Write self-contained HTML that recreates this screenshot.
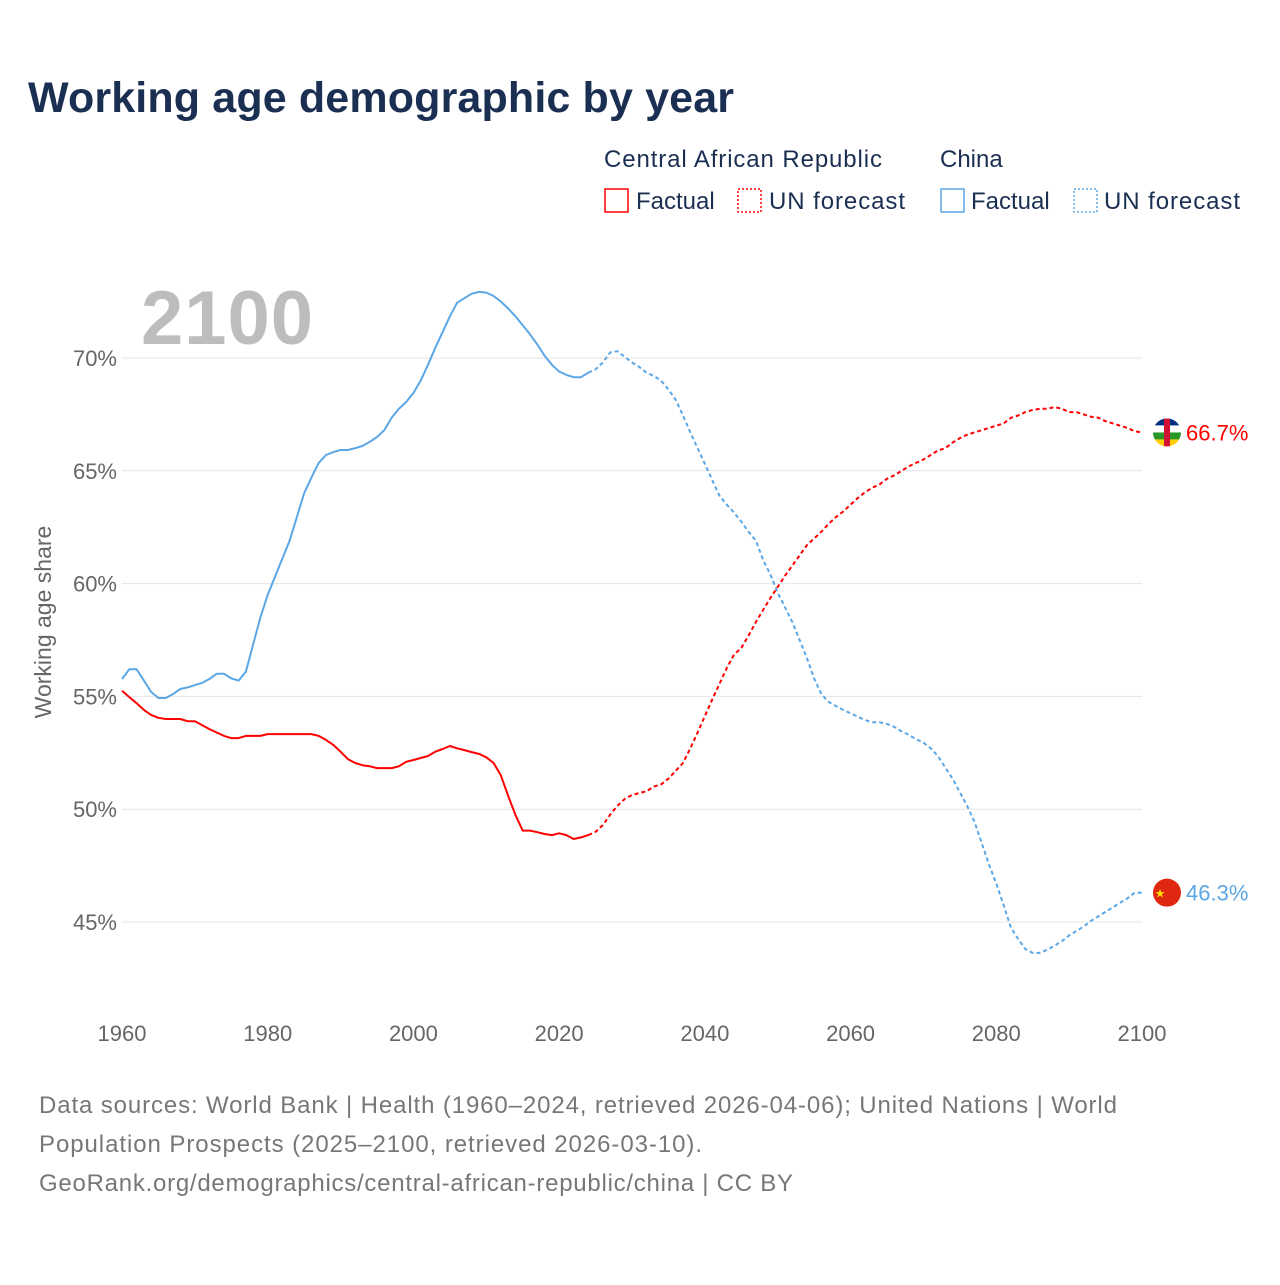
<!DOCTYPE html>
<html><head><meta charset="utf-8"><style>
body{margin:0;background:#fff;width:1280px;height:1280px;overflow:hidden;font-family:"Liberation Sans",sans-serif}
svg text{font-family:"Liberation Sans",sans-serif}
</style></head><body>
<svg id="chart" width="1280" height="1280" xmlns="http://www.w3.org/2000/svg">
<text x="28" y="112" font-size="43" font-weight="bold" fill="#1b2f52" textLength="706">Working age demographic by year</text>
<g font-size="24" fill="#1b2f52">
<text x="604" y="167" fill="#1b2f52" textLength="278">Central African Republic</text>
<text x="940" y="167" fill="#1b2f52">China</text>
<g><rect x="605" y="189" width="23" height="23" fill="none" stroke="#f00" stroke-width="1.5"/><text x="636" y="209" fill="#1b2f52">Factual</text></g>
<g><rect x="738" y="189" width="23" height="23" fill="none" stroke="#f00" stroke-width="1.5" stroke-dasharray="2,2"/><text x="769" y="209" fill="#1b2f52" textLength="136">UN forecast</text></g>
<g><rect x="941" y="189" width="23" height="23" fill="none" stroke="#5ba7e6" stroke-width="1.5"/><text x="971" y="209" fill="#1b2f52">Factual</text></g>
<g><rect x="1074" y="189" width="23" height="23" fill="none" stroke="#5ba7e6" stroke-width="1.5" stroke-dasharray="2,2"/><text x="1104" y="209" fill="#1b2f52" textLength="136">UN forecast</text></g>
</g>
<text x="141" y="344" font-size="76" font-weight="bold" fill="#bdbdbd" textLength="172">2100</text>
<text transform="translate(51,622) rotate(-90)" text-anchor="middle" font-size="23" fill="#666">Working age share</text>
<g id="grid"></g><g id="axes"></g><g id="series"></g>
<g font-size="24" fill="#777">
<text x="39" y="1113" textLength="1078">Data sources: World Bank | Health (1960–2024, retrieved 2026-04-06); United Nations | World</text>
<text x="39" y="1152" textLength="663">Population Prospects (2025–2100, retrieved 2026-03-10).</text>
<text x="39" y="1191" textLength="754">GeoRank.org/demographics/central-african-republic/china | CC BY</text>
</g>
</svg>
<script>
const yTicks=[45,50,55,60,65,70];
const xTicks=[1960,1980,2000,2020,2040,2060,2080,2100];
const chinaFactual=[55.77,56.2,56.2,55.7,55.2,54.93,54.93,55.1,55.33,55.4,55.5,55.6,55.77,56.0,56.0,55.8,55.7,56.1,57.3,58.5,59.5,60.3,61.1,61.9,62.95,64.0,64.7,65.35,65.7,65.83,65.92,65.92,66.0,66.1,66.28,66.5,66.8,67.35,67.75,68.05,68.45,69.0,69.7,70.45,71.15,71.85,72.45,72.65,72.85,72.93,72.9,72.75,72.5,72.2,71.85,71.45,71.05,70.6,70.1,69.7,69.4,69.25,69.15,69.15,69.35];
const chinaForecast=[69.35,69.5,69.8,70.25,70.3,70.05,69.8,69.6,69.35,69.2,69.0,68.6,68.15,67.45,66.7,66.0,65.3,64.6,63.9,63.5,63.15,62.75,62.3,61.9,61.05,60.4,59.6,58.95,58.3,57.5,56.7,55.8,55.1,54.75,54.57,54.4,54.25,54.1,53.95,53.85,53.85,53.78,53.65,53.45,53.3,53.1,52.95,52.7,52.35,51.85,51.35,50.75,50.15,49.45,48.5,47.55,46.7,45.75,44.75,44.25,43.8,43.63,43.63,43.77,43.95,44.15,44.4,44.6,44.8,45.05,45.25,45.45,45.65,45.85,46.05,46.3,46.3];
const carFactual=[55.25,54.97,54.7,54.4,54.18,54.05,54.0,54.0,54.0,53.9,53.9,53.73,53.55,53.4,53.25,53.15,53.15,53.25,53.25,53.25,53.33,53.33,53.33,53.33,53.33,53.33,53.33,53.25,53.07,52.85,52.55,52.22,52.05,51.95,51.9,51.82,51.82,51.82,51.9,52.1,52.18,52.27,52.36,52.55,52.67,52.8,52.7,52.62,52.53,52.45,52.3,52.05,51.5,50.6,49.75,49.05,49.05,48.98,48.9,48.85,48.93,48.85,48.68,48.75,48.85];
const carForecast=[48.85,49.0,49.3,49.75,50.15,50.45,50.63,50.72,50.8,51.0,51.1,51.35,51.7,52.05,52.7,53.4,54.13,54.85,55.55,56.25,56.85,57.15,57.7,58.3,58.83,59.36,59.85,60.35,60.8,61.25,61.7,62.0,62.3,62.65,62.95,63.2,63.5,63.8,64.05,64.25,64.4,64.65,64.8,65.0,65.2,65.35,65.5,65.7,65.9,66.0,66.25,66.45,66.6,66.7,66.8,66.9,67.0,67.1,67.35,67.45,67.6,67.7,67.75,67.75,67.83,67.75,67.6,67.6,67.5,67.4,67.35,67.2,67.1,67.0,66.9,66.75,66.7];
const factualStart=1960, forecastStart=2024;
const x=v=>122+(v-1960)*(1020/140);
const y=v=>922-(v-45)*22.56;
const NS="http://www.w3.org/2000/svg";
function mk(tag,attrs,parent){const e=document.createElementNS(NS,tag);for(const k in attrs)e.setAttribute(k,attrs[k]);parent.appendChild(e);return e;}
const grid=document.getElementById('grid'),axes=document.getElementById('axes'),ser=document.getElementById('series');
yTicks.forEach(t=>{
 const l=mk('line',{x1:122,x2:1142,y1:y(t),y2:y(t),stroke:'#e6e6e6','stroke-width':1},grid);
 
 
 const tx=mk('text',{x:117,y:y(t)+8,'text-anchor':'end','font-size':22,fill:'#666'},axes);
 tx.textContent=t+'%';
 
 
});
xTicks.forEach(t=>{
 const tx=mk('text',{x:x(t),y:1041,'text-anchor':'middle','font-size':22,fill:'#666'},axes);
 tx.textContent=t;
 
 
});
function line(arr,start,color,dash,name){
 const d=arr.map((v,i)=>(i?'L':'M')+x(start+i).toFixed(1)+','+y(v).toFixed(1)).join(' ');
 const p=mk('path',{d:d,fill:'none',stroke:color,'stroke-width':2,'stroke-dasharray':dash||'none','stroke-linejoin':'round'},ser);
 
 
}
line(chinaFactual,factualStart,'#5ba7e6',null,'china-factual-line');
line(chinaForecast,forecastStart,'#5ba7e6','4,3','china-forecast-line');
line(carFactual,factualStart,'#f00',null,'car-factual-line');
line(carForecast,forecastStart,'#f00','4,3','car-forecast-line');
const carLast=carForecast[carForecast.length-1], chLast=chinaForecast[chinaForecast.length-1];
const fc=mk('g',{},ser);


const cy=y(carLast);
mk('defs',{},fc).innerHTML='<clipPath id="cc"><circle cx="1167" cy="'+cy+'" r="14"/></clipPath>';
const cg=mk('g',{'clip-path':'url(#cc)'},fc);
[['#003082',0],['#fff',1],['#289728',2],['#ffce00',3]].forEach(([c,i])=>mk('rect',{x:1153,y:cy-14+i*7,width:28,height:7,fill:c},cg));
mk('rect',{x:1164,y:cy-14,width:6,height:28,fill:'#d21034'},cg);
const t1=mk('text',{x:1186,y:cy+8,'font-size':22,fill:'#f00'},ser);
t1.textContent=carLast.toFixed(1)+'%';


const hy=y(chLast);
const fh=mk('g',{},ser);


mk('circle',{cx:1167,cy:hy,r:14,fill:'#de2910'},fh);
mk('text',{x:1160,y:hy+5,'font-size':12,fill:'#ffde00','text-anchor':'middle'},fh).textContent='★';
const t2=mk('text',{x:1186,y:hy+8,'font-size':22,fill:'#5ba7e6'},ser);
t2.textContent=chLast.toFixed(1)+'%';


</script>
</body></html>
